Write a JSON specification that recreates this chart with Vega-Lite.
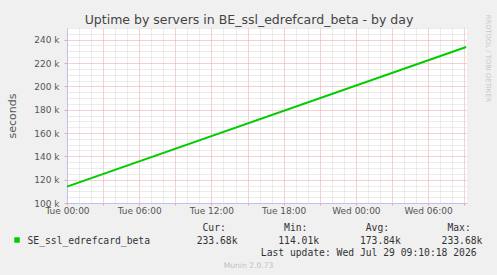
{
  "$schema": "https://vega.github.io/schema/vega-lite/v6.json",
  "width": 400,
  "height": 175,
  "autosize": {"type": "none"},
  "padding": {"left": 67, "top": 28, "right": 30, "bottom": 72},
  "background": "#f0f0f0",
  "title": {
    "text": "Uptime by servers in BE_ssl_edrefcard_beta - by day",
    "font": "DejaVu Sans",
    "fontSize": 12.5,
    "fontWeight": "normal",
    "color": "#444444",
    "anchor": "middle",
    "frame": "group",
    "dx": -18,
    "offset": -12.5
  },
  "data": {
    "values": [
      {"time": "2026-07-28T00:00:00Z", "uptime": 114010},
      {"time": "2026-07-29T09:10:00Z", "uptime": 233680}
    ]
  },
  "layer": [
    {
      "mark": {"type": "line", "strokeWidth": 2},
      "encoding": {
        "x": {
          "field": "time",
          "type": "temporal",
          "scale": {"type": "utc", "domain": [1785196800000, 1785316440000]},
          "axis": {
            "orient": "bottom",
            "tickCount": 34,
            "grid": true,
            "gridColor": {"condition": {"test": "utchours(datum.value) % 3 == 0", "value": "#eaa4a4"}, "value": "#d8d8d8"},
            "gridDash": [1, 1],
            "domainColor": "#c0c0f0",
            "ticks": true,
            "tickSize": 2,
            "tickColor": {"condition": {"test": "utchours(datum.value) % 3 == 0", "value": "#eaa4a4"}, "value": "transparent"},
            "labelExpr": "utchours(datum.value) % 6 == 0 ? utcFormat(datum.value, '%a %H:%M') : ''",
            "labelOverlap": false,
            "labelFlush": false,
            "labelPadding": 1,
            "labelFont": "DejaVu Sans",
            "labelFontSize": 9,
            "labelColor": "#555555",
            "title": [
              "\u200b\u00a0\u00a0\u00a0\u00a0\u00a0\u00a0\u00a0\u00a0\u00a0\u00a0\u00a0\u00a0\u00a0\u00a0\u00a0\u00a0\u00a0\u00a0\u00a0\u00a0\u00a0\u00a0\u00a0\u00a0\u00a0\u00a0\u00a0\u00a0\u00a0\u00a0Cur:\u00a0\u00a0\u00a0\u00a0\u00a0\u00a0\u00a0\u00a0\u00a0\u00a0Min:\u00a0\u00a0\u00a0\u00a0\u00a0\u00a0\u00a0\u00a0\u00a0\u00a0Avg:\u00a0\u00a0\u00a0\u00a0\u00a0\u00a0\u00a0\u00a0\u00a0\u00a0Max:",
              "SE_ssl_edrefcard_beta\u00a0\u00a0\u00a0\u00a0\u00a0\u00a0\u00a0\u00a0233.68k\u00a0\u00a0\u00a0\u00a0\u00a0\u00a0\u00a0114.01k\u00a0\u00a0\u00a0\u00a0\u00a0\u00a0\u00a0173.84k\u00a0\u00a0\u00a0\u00a0\u00a0\u00a0\u00a0233.68k",
              "\u200b\u00a0\u00a0\u00a0\u00a0\u00a0\u00a0\u00a0\u00a0\u00a0\u00a0\u00a0\u00a0\u00a0\u00a0\u00a0\u00a0\u00a0\u00a0\u00a0\u00a0\u00a0\u00a0\u00a0\u00a0\u00a0\u00a0\u00a0\u00a0\u00a0\u00a0\u00a0\u00a0\u00a0\u00a0\u00a0\u00a0\u00a0\u00a0\u00a0\u00a0Last update: Wed Jul 29 09:10:18 2026"
            ],
            "titleFont": "DejaVu Sans Mono",
            "titleFontSize": 9.7,
            "titleFontWeight": "normal",
            "titleColor": "#333333",
            "titleAlign": "left",
            "titleAnchor": "start",
            "titleBaseline": "alphabetic",
            "titleX": -40,
            "titleY": 27.5,
            "titleLineHeight": 12.5
          }
        },
        "y": {
          "field": "uptime",
          "type": "quantitative",
          "scale": {"domain": [100000, 250000], "nice": false, "zero": false},
          "axis": {
            "orient": "left",
            "tickCount": 30,
            "grid": true,
            "gridColor": {"condition": {"test": "datum.value % 20000 == 0", "value": "#eaa4a4"}, "value": "#d8d8d8"},
            "gridDash": [1, 1],
            "domainColor": "#c0c0f0",
            "ticks": true,
            "tickSize": 3,
            "tickColor": {"condition": {"test": "datum.value % 20000 == 0", "value": "#eaa4a4"}, "value": "transparent"},
            "labelExpr": "datum.value % 20000 == 0 ? format(datum.value / 1000, 'd') + ' k' : ''",
            "labelOverlap": false,
            "labelPadding": 5,
            "labelFont": "DejaVu Sans",
            "labelFontSize": 9,
            "labelColor": "#555555",
            "title": "seconds",
            "titleFont": "DejaVu Sans",
            "titleFontSize": 11,
            "titleFontWeight": "normal",
            "titleColor": "#555555",
            "titleAngle": 270,
            "titleAlign": "center",
            "titleBaseline": "middle",
            "titleX": -55,
            "titleY": 87.5
          }
        },
        "color": {
          "datum": "SE_ssl_edrefcard_beta",
          "scale": {"range": ["#00cc00"]},
          "legend": {
            "orient": "none",
            "legendX": -55,
            "legendY": 207,
            "title": null,
            "symbolType": "square",
            "symbolSize": 30,
            "symbolFillColor": "#00cc00",
            "symbolStrokeWidth": 0,
            "labelExpr": "''"
          }
        }
      }
    },
    {
      "mark": {"type": "line", "opacity": 0},
      "encoding": {
        "x": {
          "field": "time",
          "type": "temporal",
          "axis": {
            "orient": "top",
            "grid": false,
            "domain": false,
            "ticks": false,
            "labels": false,
            "title": "Munin 2.0.73",
            "titleFont": "DejaVu Sans",
            "titleFontSize": 7.6,
            "titleFontWeight": "normal",
            "titleColor": "#c0c0c0",
            "titleAlign": "center",
            "titleBaseline": "alphabetic",
            "titleX": 181,
            "titleY": 239
          }
        },
        "y": {
          "field": "uptime",
          "type": "quantitative",
          "axis": {
            "orient": "right",
            "grid": false,
            "domain": false,
            "ticks": false,
            "labels": false,
            "title": "RRDTOOL / TOBI OETIKER",
            "titleFont": "DejaVu Sans",
            "titleFontSize": 6.8,
            "titleFontWeight": "normal",
            "titleColor": "#c8c8c8",
            "titleAngle": 90,
            "titleAlign": "center",
            "titleBaseline": "middle",
            "titleX": 20,
            "titleY": 30
          }
        }
      }
    }
  ],
  "resolve": {"axis": {"x": "independent", "y": "independent"}},
  "config": {
    "view": {"fill": "white", "stroke": null},
    "font": "DejaVu Sans"
  }
}
